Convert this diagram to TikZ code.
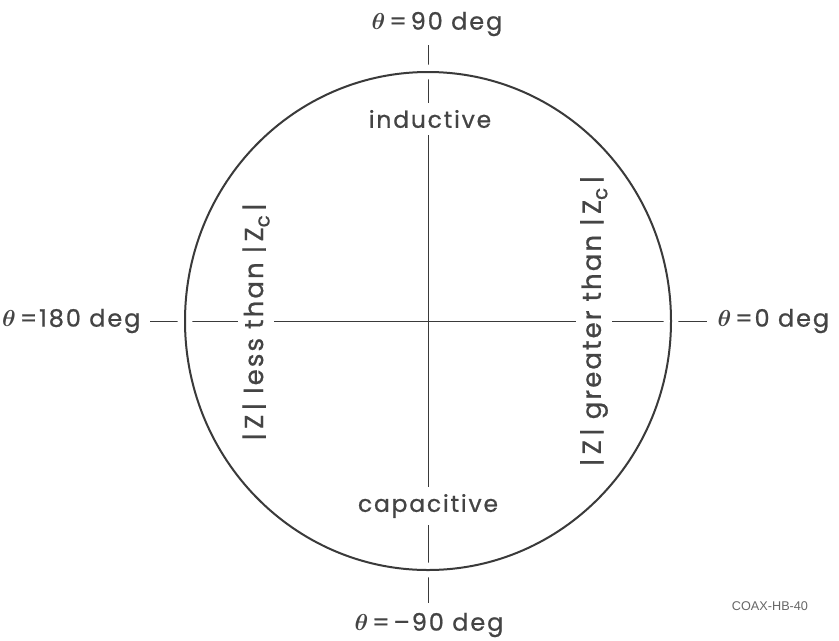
\documentclass[tikz,border=0pt]{standalone}
\usepackage{fontspec}
\setmainfont[LetterSpace=8,FakeBold=0.8]{Poppins}
\newfontfamily\tagfont{Liberation Sans}
\usetikzlibrary{positioning}
\definecolor{ChartInk}{HTML}{3A3A3A}
\definecolor{ChartText}{HTML}{444444}
\definecolor{ChartTag}{HTML}{666666}
\newcommand{\ZZ}{|\,Z\,|}
\newcommand{\ZZc}{|\,Z\raisebox{-0.45ex}{\fontsize{15}{16}\selectfont c}\,|}
\newcommand{\thet}{{\boldmath$\theta$}\,}

\begin{document}
\begin{tikzpicture}[x=0.75pt,y=-0.75pt,
  axis/.style={draw=ChartInk,line width=0.7pt},
  rim/.style={draw=ChartInk,line width=1.5pt},
  halo/.style={draw=white,line width=11pt},
  angle/.style={text=ChartText,font=\fontsize{18}{20}\selectfont,inner sep=1pt},
  region/.style={text=ChartText,font=\fontsize{17.5}{20}\selectfont,fill=white,inner sep=5pt},
  ratio/.style={region,rotate=90,font=\fontsize{19.5}{22}\selectfont,inner sep=3pt}
]
\useasboundingbox[fill=white] (0,0) rectangle (839,640);
\coordinate (O) at (428,321);
\coordinate (vtop) at (428,45);
\coordinate (vbot) at (428,603);
\coordinate (hleft) at (150,321);
\coordinate (hright) at (707,321);
% axes, broken where they cross the rim
\draw[axis] (vtop) -- (vbot);
\draw[axis] (hleft) -- (hright);
\draw[halo] (O) ellipse [x radius=243,y radius=249];
\draw[rim] (O) ellipse [x radius=243,y radius=249];
% regions
\node[region] (ind) at (430,119) {inductive};
\node[region] (cap) at (428,506) {capacitive};
\node[ratio] (less) at (256,322) {\ZZ{} less than \ZZc};
\node[ratio] (great) at (594,321) {\ZZ{} greater than \ZZc};
% angle labels
\node[angle] (deg90) at (437,24) {\thet=\,90 deg};
\node[angle] (degm90) at (429,625) {\thet=\,--90 deg};
\node[angle,anchor=east] (deg180) at (142,321) {\thet=180 deg};
\node[angle,anchor=west] (deg0) at (716,321) {\thet=0 deg};
\node[text=ChartTag,font=\tagfont\fontsize{9.5}{11}\selectfont] (tag) at (770,606) {COAX-HB-40};
\end{tikzpicture}
\end{document}
